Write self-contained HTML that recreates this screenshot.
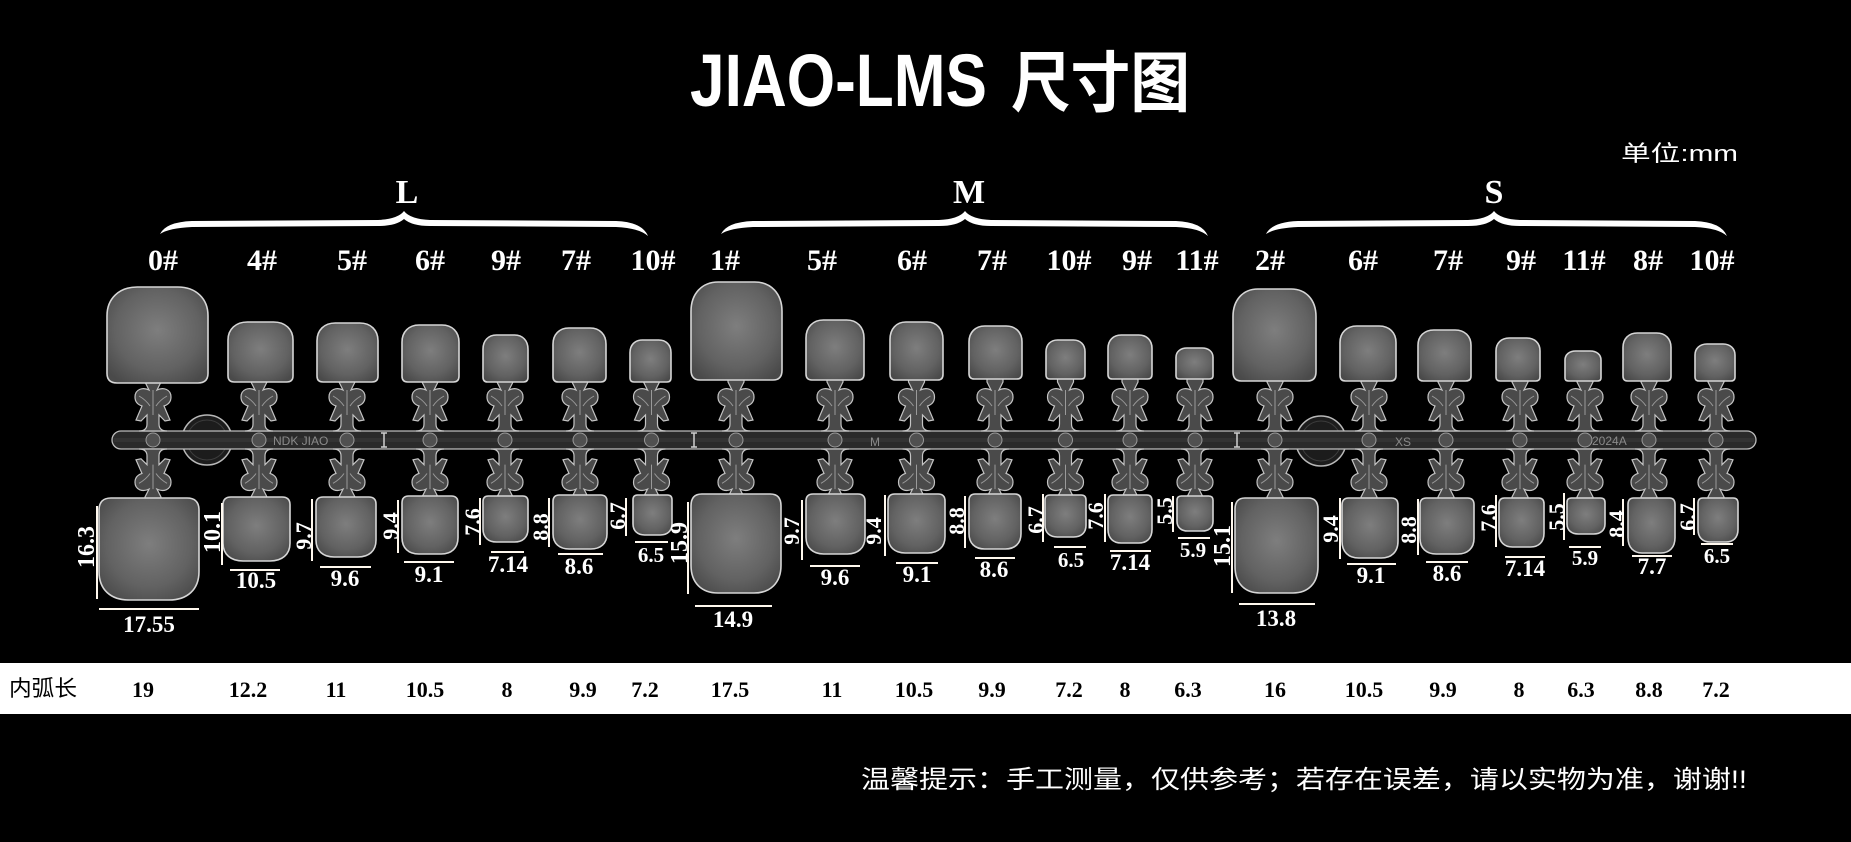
<!DOCTYPE html>
<html><head><meta charset="utf-8">
<style>
html,body{margin:0;padding:0;background:#000;}
svg{display:block;}
.t{font-family:"Liberation Sans","Noto Sans CJK SC",sans-serif;font-weight:bold;fill:#fff;}
.cj{font-family:"Liberation Sans","Noto Sans CJK SC",sans-serif;fill:#fff;}
.sz{font-family:"Liberation Serif",serif;font-weight:bold;fill:#fff;font-size:34px;text-anchor:middle;}
.lb{font-family:"Liberation Serif",serif;font-weight:bold;fill:#fff;font-size:30px;text-anchor:middle;}
.m{font-family:"Liberation Serif",serif;font-weight:bold;fill:#fff;font-size:23px;text-anchor:middle;}
.ms{font-family:"Liberation Serif",serif;font-weight:bold;fill:#fff;font-size:21px;text-anchor:middle;}
.v{font-family:"Liberation Serif",serif;font-weight:bold;fill:#fff;font-size:22px;text-anchor:middle;}
.v4{font-family:"Liberation Serif",serif;font-weight:bold;fill:#fff;font-size:24px;text-anchor:middle;}
.tb{font-family:"Liberation Serif",serif;font-weight:bold;fill:#000;font-size:22px;text-anchor:middle;}
.emb{font-family:"Liberation Sans",sans-serif;fill:#8a8a8a;font-size:12px;}
.ln{stroke:#fff8ee;stroke-width:2;}
</style></head>
<body>
<svg width="1851" height="842" viewBox="0 0 1851 842" xmlns="http://www.w3.org/2000/svg">
<defs>
  <radialGradient id="ng" cx="50%" cy="45%" r="65%">
    <stop offset="0" stop-color="#7e7e7e"/>
    <stop offset="0.65" stop-color="#626262"/>
    <stop offset="1" stop-color="#4a4a4a"/>
  </radialGradient>
  <path id="nt" d="M0,90 L0,30 C0,12 12,0 30,0 L70,0 C88,0 100,12 100,30 L100,90 Q100,100 90,100 L10,100 Q0,100 0,90 Z" fill="url(#ng)" stroke="#d6d6d6" stroke-width="1.6" vector-effect="non-scaling-stroke"/>
  <path id="nb" d="M0,12 Q0,0 12,0 L88,0 Q100,0 100,12 L100,72 C100,90 88,100 70,100 L30,100 C12,100 0,90 0,72 Z" fill="url(#ng)" stroke="#d6d6d6" stroke-width="1.6" vector-effect="non-scaling-stroke"/>
  <g id="ct">
    <path d="M-8,-4 L8,-4 L8,0 L4,8 C10,5 18,7 18,15 C18,21 14,23 11,24 L17,38 L12,39 L6,33 L6,42 Q6,49 14,49 L-14,49 Q-6,49 -6,42 L-6,33 L-12,39 L-17,38 L-11,24 C-14,23 -18,21 -18,15 C-18,7 -10,5 -4,8 L-8,0 Z" fill="#4a4a4a" stroke="#c4c4c4" stroke-width="1.2"/>
    <path d="M0,8 L0,33 M-14,14 Q-7,18 -3,24 M14,14 Q7,18 3,24" stroke="#9a9a9a" stroke-width="1" fill="none"/>
  </g>
</defs>

<rect width="1851" height="842" fill="#000"/>

<!-- Title -->
<text class="t" x="690" y="106" font-size="74" textLength="297" lengthAdjust="spacingAndGlyphs">JIAO-LMS</text>
<text class="t" x="1011" y="106" font-size="66" textLength="179" lengthAdjust="spacingAndGlyphs">尺寸图</text>
<text class="cj" x="1621" y="161" font-size="22" textLength="117" lengthAdjust="spacingAndGlyphs">单位:mm</text>

<!-- size group labels -->
<text class="sz" x="407" y="203">L</text>
<text class="sz" x="969" y="203">M</text>
<text class="sz" x="1494" y="203">S</text>

<!-- braces -->
<path fill="#fff" d="M160,234 Q166,222 192,221 L378,220 Q398,219 404,211 Q410,219 430,220 L616,221 Q642,222 648,236 Q639,228 616,227 L430,226 Q412,226 404,219 Q396,226 378,226 L192,227 Q169,228 160,234 Z"/>
<path fill="#fff" d="M721,234 Q727,222 753,221 L939,220 Q959,219 965,211 Q971,219 991,220 L1176,221 Q1202,222 1208,236 Q1199,228 1176,227 L991,226 Q973,226 965,219 Q957,226 939,226 L753,227 Q730,228 721,234 Z"/>
<path fill="#fff" d="M1266,234 Q1272,222 1298,221 L1468,220 Q1488,219 1494,211 Q1500,219 1520,220 L1695,221 Q1721,222 1727,236 Q1718,228 1695,227 L1520,226 Q1502,226 1494,219 Q1486,226 1468,226 L1298,227 Q1275,228 1266,234 Z"/>

<!-- size numbers -->
<g>
<text class="lb" x="163" y="270">0#</text>
<text class="lb" x="262" y="270">4#</text>
<text class="lb" x="352" y="270">5#</text>
<text class="lb" x="430" y="270">6#</text>
<text class="lb" x="506" y="270">9#</text>
<text class="lb" x="576" y="270">7#</text>
<text class="lb" x="653" y="270">10#</text>
<text class="lb" x="725" y="270">1#</text>
<text class="lb" x="822" y="270">5#</text>
<text class="lb" x="912" y="270">6#</text>
<text class="lb" x="992" y="270">7#</text>
<text class="lb" x="1069" y="270">10#</text>
<text class="lb" x="1137" y="270">9#</text>
<text class="lb" x="1197" y="270">11#</text>
<text class="lb" x="1270" y="270">2#</text>
<text class="lb" x="1363" y="270">6#</text>
<text class="lb" x="1448" y="270">7#</text>
<text class="lb" x="1521" y="270">9#</text>
<text class="lb" x="1584" y="270">11#</text>
<text class="lb" x="1648" y="270">8#</text>
<text class="lb" x="1712" y="270">10#</text>
</g>

<!-- discs -->
<circle cx="207" cy="440" r="25" fill="#1c1c1c" stroke="#b8b8b8" stroke-width="1.5"/>
<circle cx="207" cy="440" r="20" fill="none" stroke="#3c3c3c" stroke-width="1"/>
<circle cx="1321" cy="441" r="25" fill="#1c1c1c" stroke="#b8b8b8" stroke-width="1.5"/>
<circle cx="1321" cy="441" r="20" fill="none" stroke="#3c3c3c" stroke-width="1"/>

<!-- bar -->
<rect x="112" y="431" width="1644" height="18" rx="9" fill="#2a2a2a" stroke="#bdbdbd" stroke-width="1.3"/>
<line x1="114" y1="440" x2="1754" y2="440" stroke="#333" stroke-width="4"/>

<!-- connectors -->
<g>
<use href="#ct" transform="translate(153,382)"/><use href="#ct" transform="translate(153,497) scale(1,-0.98)"/>
<use href="#ct" transform="translate(259,382)"/><use href="#ct" transform="translate(259,497) scale(1,-0.98)"/>
<use href="#ct" transform="translate(347,382)"/><use href="#ct" transform="translate(347,497) scale(1,-0.98)"/>
<use href="#ct" transform="translate(430,382)"/><use href="#ct" transform="translate(430,497) scale(1,-0.98)"/>
<use href="#ct" transform="translate(505,382)"/><use href="#ct" transform="translate(505,497) scale(1,-0.98)"/>
<use href="#ct" transform="translate(580,382)"/><use href="#ct" transform="translate(580,497) scale(1,-0.98)"/>
<use href="#ct" transform="translate(651.5,382)"/><use href="#ct" transform="translate(651.5,497) scale(1,-0.98)"/>
<use href="#ct" transform="translate(736,382)"/><use href="#ct" transform="translate(736,497) scale(1,-0.98)"/>
<use href="#ct" transform="translate(835,382)"/><use href="#ct" transform="translate(835,497) scale(1,-0.98)"/>
<use href="#ct" transform="translate(916.5,382)"/><use href="#ct" transform="translate(916.5,497) scale(1,-0.98)"/>
<use href="#ct" transform="translate(995,382)"/><use href="#ct" transform="translate(995,497) scale(1,-0.98)"/>
<use href="#ct" transform="translate(1065.5,382)"/><use href="#ct" transform="translate(1065.5,497) scale(1,-0.98)"/>
<use href="#ct" transform="translate(1130,382)"/><use href="#ct" transform="translate(1130,497) scale(1,-0.98)"/>
<use href="#ct" transform="translate(1195,382)"/><use href="#ct" transform="translate(1195,497) scale(1,-0.98)"/>
<use href="#ct" transform="translate(1275,382)"/><use href="#ct" transform="translate(1275,497) scale(1,-0.98)"/>
<use href="#ct" transform="translate(1369,382)"/><use href="#ct" transform="translate(1369,497) scale(1,-0.98)"/>
<use href="#ct" transform="translate(1446,382)"/><use href="#ct" transform="translate(1446,497) scale(1,-0.98)"/>
<use href="#ct" transform="translate(1520,382)"/><use href="#ct" transform="translate(1520,497) scale(1,-0.98)"/>
<use href="#ct" transform="translate(1585,382)"/><use href="#ct" transform="translate(1585,497) scale(1,-0.98)"/>
<use href="#ct" transform="translate(1649,382)"/><use href="#ct" transform="translate(1649,497) scale(1,-0.98)"/>
<use href="#ct" transform="translate(1716,382)"/><use href="#ct" transform="translate(1716,497) scale(1,-0.98)"/>
</g>

<!-- junction circles -->
<g fill="#505050" stroke="#9a9a9a" stroke-width="1">
<circle cx="153" cy="440" r="7"/><circle cx="259" cy="440" r="7"/><circle cx="347" cy="440" r="7"/><circle cx="430" cy="440" r="7"/><circle cx="505" cy="440" r="7"/><circle cx="580" cy="440" r="7"/><circle cx="651.5" cy="440" r="7"/>
<circle cx="736" cy="440" r="7"/><circle cx="835" cy="440" r="7"/><circle cx="916.5" cy="440" r="7"/><circle cx="995" cy="440" r="7"/><circle cx="1065.5" cy="440" r="7"/><circle cx="1130" cy="440" r="7"/><circle cx="1195" cy="440" r="7"/>
<circle cx="1275" cy="440" r="7"/><circle cx="1369" cy="440" r="7"/><circle cx="1446" cy="440" r="7"/><circle cx="1520" cy="440" r="7"/><circle cx="1585" cy="440" r="7"/><circle cx="1649" cy="440" r="7"/><circle cx="1716" cy="440" r="7"/>
</g>

<!-- bar dividers & embossed text -->
<g stroke="#cfcfcf" stroke-width="1.5" fill="none">
<path d="M384,433 L384,447 M381,433 L387,433 M381,447 L387,447"/>
<path d="M694,433 L694,447 M691,433 L697,433 M691,447 L697,447"/>
<path d="M1237,433 L1237,447 M1234,433 L1240,433 M1234,447 L1240,447"/>
</g>
<text class="emb" x="273" y="445">NDK JIAO</text>
<text class="emb" x="870" y="446" font-size="14">M</text>
<text class="emb" x="1395" y="446" font-size="14">XS</text>
<text class="emb" x="1592" y="445">2024A</text>

<!-- top nails -->
<g>
<use href="#nt" transform="translate(107,287) scale(1.01,0.96)"/>
<use href="#nt" transform="translate(228,322) scale(0.65,0.60)"/>
<use href="#nt" transform="translate(317,323) scale(0.61,0.59)"/>
<use href="#nt" transform="translate(402,325) scale(0.57,0.57)"/>
<use href="#nt" transform="translate(483,335) scale(0.45,0.47)"/>
<use href="#nt" transform="translate(553,328) scale(0.53,0.54)"/>
<use href="#nt" transform="translate(630,340) scale(0.41,0.42)"/>
<use href="#nt" transform="translate(691,282) scale(0.91,0.98)"/>
<use href="#nt" transform="translate(806,320) scale(0.58,0.60)"/>
<use href="#nt" transform="translate(890,322) scale(0.53,0.58)"/>
<use href="#nt" transform="translate(969,326) scale(0.53,0.53)"/>
<use href="#nt" transform="translate(1046,340) scale(0.39,0.39)"/>
<use href="#nt" transform="translate(1108,335) scale(0.44,0.44)"/>
<use href="#nt" transform="translate(1176,348) scale(0.37,0.31)"/>
<use href="#nt" transform="translate(1233,289) scale(0.83,0.92)"/>
<use href="#nt" transform="translate(1340,326) scale(0.56,0.55)"/>
<use href="#nt" transform="translate(1418,330) scale(0.53,0.51)"/>
<use href="#nt" transform="translate(1496,338) scale(0.44,0.43)"/>
<use href="#nt" transform="translate(1565,351) scale(0.36,0.30)"/>
<use href="#nt" transform="translate(1623,333) scale(0.48,0.48)"/>
<use href="#nt" transform="translate(1695,344) scale(0.40,0.37)"/>
</g>

<!-- bottom nails -->
<g>
<use href="#nb" transform="translate(99,498) scale(1.00,1.02)"/>
<use href="#nb" transform="translate(223,497) scale(0.67,0.64)"/>
<use href="#nb" transform="translate(316,497) scale(0.60,0.60)"/>
<use href="#nb" transform="translate(402,496) scale(0.56,0.58)"/>
<use href="#nb" transform="translate(483,496) scale(0.45,0.46)"/>
<use href="#nb" transform="translate(553,495) scale(0.54,0.54)"/>
<use href="#nb" transform="translate(633,495) scale(0.39,0.40)"/>
<use href="#nb" transform="translate(691,494) scale(0.90,0.99)"/>
<use href="#nb" transform="translate(806,494) scale(0.59,0.60)"/>
<use href="#nb" transform="translate(888,494) scale(0.57,0.59)"/>
<use href="#nb" transform="translate(969,494) scale(0.52,0.55)"/>
<use href="#nb" transform="translate(1045,495) scale(0.41,0.42)"/>
<use href="#nb" transform="translate(1108,495) scale(0.44,0.48)"/>
<use href="#nb" transform="translate(1177,496) scale(0.36,0.35)"/>
<use href="#nb" transform="translate(1235,498) scale(0.83,0.95)"/>
<use href="#nb" transform="translate(1342,498) scale(0.56,0.60)"/>
<use href="#nb" transform="translate(1420,498) scale(0.54,0.56)"/>
<use href="#nb" transform="translate(1499,498) scale(0.45,0.49)"/>
<use href="#nb" transform="translate(1567,498) scale(0.38,0.36)"/>
<use href="#nb" transform="translate(1628,498) scale(0.47,0.55)"/>
<use href="#nb" transform="translate(1698,498) scale(0.40,0.44)"/>
</g>

<!-- vertical measure lines -->
<g class="ln">
<line x1="97" y1="506" x2="97" y2="599"/>
<line x1="222" y1="503" x2="222" y2="565"/>
<line x1="312" y1="499" x2="312" y2="561"/>
<line x1="398" y1="500" x2="398" y2="553"/>
<line x1="480" y1="498" x2="480" y2="545"/>
<line x1="549" y1="498" x2="549" y2="547"/>
<line x1="626" y1="498" x2="626" y2="536"/>
<line x1="688" y1="502" x2="688" y2="594"/>
<line x1="802" y1="500" x2="802" y2="560"/>
<line x1="885" y1="495" x2="885" y2="556"/>
<line x1="965" y1="496" x2="965" y2="548"/>
<line x1="1043" y1="494" x2="1043" y2="542"/>
<line x1="1105" y1="494" x2="1105" y2="542"/>
<line x1="1173" y1="496" x2="1173" y2="532"/>
<line x1="1232" y1="502" x2="1232" y2="593"/>
<line x1="1340" y1="498" x2="1340" y2="559"/>
<line x1="1418" y1="499" x2="1418" y2="555"/>
<line x1="1496" y1="495" x2="1496" y2="547"/>
<line x1="1564" y1="493" x2="1564" y2="540"/>
<line x1="1623" y1="499" x2="1623" y2="546"/>
<line x1="1694" y1="498" x2="1694" y2="535"/>
</g>

<!-- vertical measure texts -->
<g>
<text class="v4" transform="translate(86,547) rotate(-90)" y="8">16.3</text>
<text class="v4" transform="translate(212,532) rotate(-90)" y="8">10.1</text>
<text class="v" transform="translate(303,536) rotate(-90)" y="8">9.7</text>
<text class="v" transform="translate(390,526) rotate(-90)" y="8">9.4</text>
<text class="v" transform="translate(472,522) rotate(-90)" y="8">7.6</text>
<text class="v" transform="translate(540,527) rotate(-90)" y="8">8.8</text>
<text class="v" transform="translate(618,516) rotate(-90)" y="7">6.7</text>
<text class="v4" transform="translate(679,543) rotate(-90)" y="8">15.9</text>
<text class="v" transform="translate(791,531) rotate(-90)" y="8">9.7</text>
<text class="v" transform="translate(873,531) rotate(-90)" y="8">9.4</text>
<text class="v" transform="translate(956,521) rotate(-90)" y="8">8.8</text>
<text class="v" transform="translate(1035,520) rotate(-90)" y="8">6.7</text>
<text class="v" transform="translate(1095,516) rotate(-90)" y="8">7.6</text>
<text class="v" transform="translate(1164,511) rotate(-90)" y="8">5.5</text>
<text class="v4" transform="translate(1222,546) rotate(-90)" y="8">15.1</text>
<text class="v" transform="translate(1330,529) rotate(-90)" y="8">9.4</text>
<text class="v" transform="translate(1408,530) rotate(-90)" y="8">8.8</text>
<text class="v" transform="translate(1488,518) rotate(-90)" y="8">7.6</text>
<text class="v" transform="translate(1556,517) rotate(-90)" y="8">5.5</text>
<text class="v" transform="translate(1617,524) rotate(-90)" y="7">8.4</text>
<text class="v" transform="translate(1688,517) rotate(-90)" y="7">6.7</text>
</g>

<!-- horizontal measure lines -->
<g class="ln">
<line x1="99" y1="609" x2="199" y2="609"/>
<line x1="230" y1="570" x2="280" y2="570"/>
<line x1="320" y1="567" x2="371" y2="567"/>
<line x1="404" y1="562" x2="454" y2="562"/>
<line x1="491" y1="552" x2="524" y2="552"/>
<line x1="558" y1="554" x2="603" y2="554"/>
<line x1="635" y1="542" x2="668" y2="542"/>
<line x1="695" y1="606" x2="772" y2="606"/>
<line x1="810" y1="566" x2="860" y2="566"/>
<line x1="896" y1="563" x2="938" y2="563"/>
<line x1="975" y1="558" x2="1015" y2="558"/>
<line x1="1054" y1="547" x2="1086" y2="547"/>
<line x1="1110" y1="551" x2="1151" y2="551"/>
<line x1="1178" y1="538" x2="1210" y2="538"/>
<line x1="1239" y1="604" x2="1315" y2="604"/>
<line x1="1347" y1="564" x2="1396" y2="564"/>
<line x1="1426" y1="562" x2="1468" y2="562"/>
<line x1="1505" y1="557" x2="1545" y2="557"/>
<line x1="1569" y1="547" x2="1601" y2="547"/>
<line x1="1632" y1="556" x2="1672" y2="556"/>
<line x1="1701" y1="544" x2="1733" y2="544"/>
</g>

<!-- horizontal measure texts -->
<g>
<text class="m" x="149" y="632" font-size="24">17.55</text>
<text class="m" x="256" y="588">10.5</text>
<text class="m" x="345" y="586">9.6</text>
<text class="m" x="429" y="582">9.1</text>
<text class="m" x="508" y="572">7.14</text>
<text class="m" x="579" y="574">8.6</text>
<text class="ms" x="651" y="562">6.5</text>
<text class="m" x="733" y="627">14.9</text>
<text class="m" x="835" y="585">9.6</text>
<text class="m" x="917" y="582">9.1</text>
<text class="m" x="994" y="577">8.6</text>
<text class="ms" x="1071" y="567">6.5</text>
<text class="m" x="1130" y="570">7.14</text>
<text class="ms" x="1193" y="557">5.9</text>
<text class="m" x="1276" y="626">13.8</text>
<text class="m" x="1371" y="583">9.1</text>
<text class="m" x="1447" y="581">8.6</text>
<text class="m" x="1525" y="576">7.14</text>
<text class="ms" x="1585" y="565">5.9</text>
<text class="m" x="1652" y="574">7.7</text>
<text class="ms" x="1717" y="563">6.5</text>
</g>

<!-- inner arc length row -->
<rect x="0" y="663" width="1851" height="51" fill="#fff"/>
<text x="9" y="696" font-size="22" textLength="68" lengthAdjust="spacingAndGlyphs" style="font-family:'Liberation Sans','Noto Sans CJK SC',sans-serif;fill:#000;">内弧长</text>
<g>
<text class="tb" x="143" y="697">19</text>
<text class="tb" x="248" y="697">12.2</text>
<text class="tb" x="336" y="697">11</text>
<text class="tb" x="425" y="697">10.5</text>
<text class="tb" x="507" y="697">8</text>
<text class="tb" x="583" y="697">9.9</text>
<text class="tb" x="645" y="697">7.2</text>
<text class="tb" x="730" y="697">17.5</text>
<text class="tb" x="832" y="697">11</text>
<text class="tb" x="914" y="697">10.5</text>
<text class="tb" x="992" y="697">9.9</text>
<text class="tb" x="1069" y="697">7.2</text>
<text class="tb" x="1125" y="697">8</text>
<text class="tb" x="1188" y="697">6.3</text>
<text class="tb" x="1275" y="697">16</text>
<text class="tb" x="1364" y="697">10.5</text>
<text class="tb" x="1443" y="697">9.9</text>
<text class="tb" x="1519" y="697">8</text>
<text class="tb" x="1581" y="697">6.3</text>
<text class="tb" x="1649" y="697">8.8</text>
<text class="tb" x="1716" y="697">7.2</text>
</g>

<!-- footer note -->
<text class="cj" x="861" y="788" font-size="25" textLength="886" lengthAdjust="spacingAndGlyphs">温馨提示：手工测量，仅供参考；若存在误差，请以实物为准，谢谢!!</text>
</svg>
</body></html>
